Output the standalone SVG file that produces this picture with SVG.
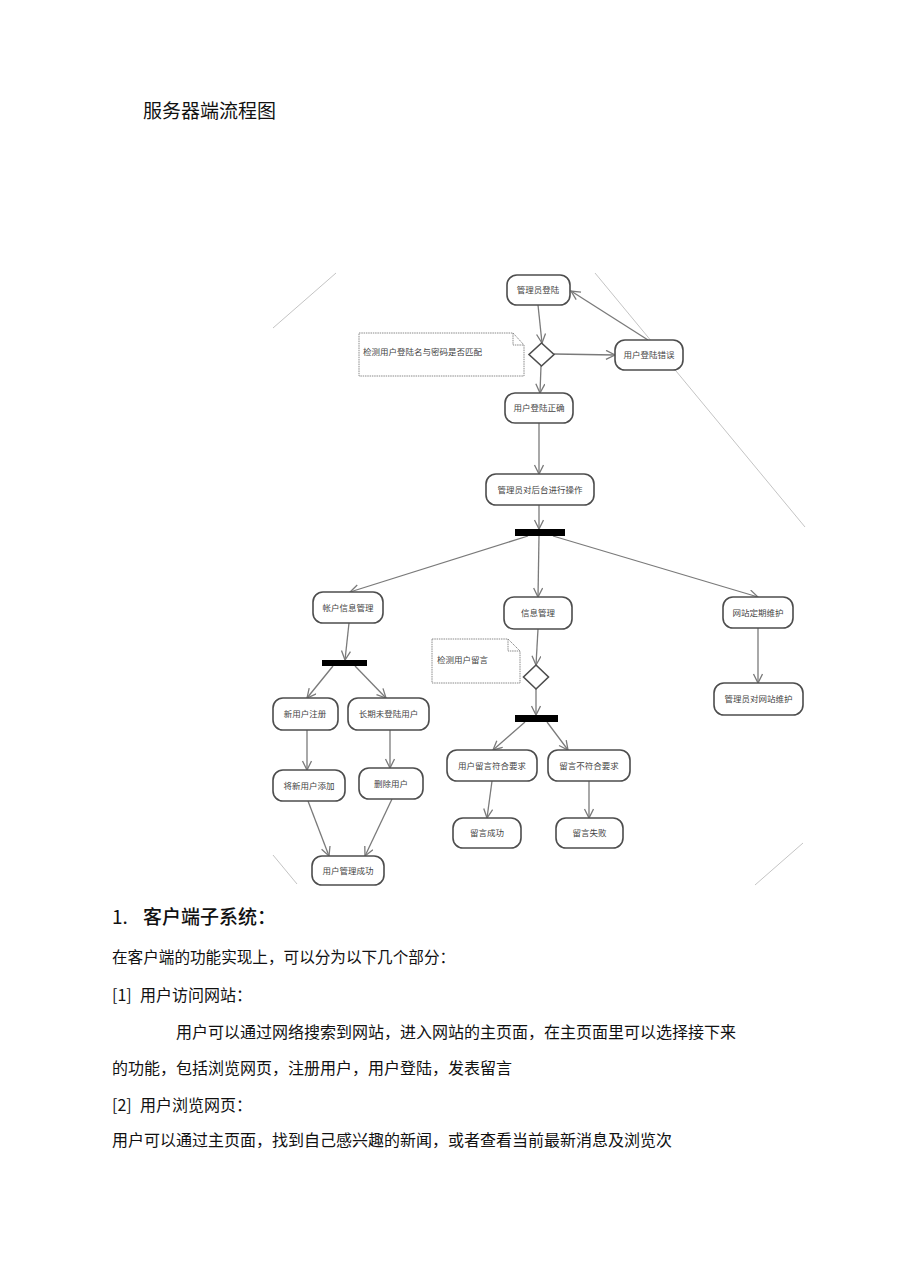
<svg xmlns="http://www.w3.org/2000/svg" width="920" height="1280" viewBox="0 0 920 1280">
<defs>
<style>
.node rect{fill:#fff;stroke:#4d4d4d;stroke-width:1.6}
.node text{font-family:"Noto Sans CJK SC","Noto Sans",sans-serif;font-size:8.5px;fill:#444;text-anchor:middle}
.note path{fill:#fff;stroke:#8a8a8a;stroke-width:1;stroke-dasharray:1.5 0.8}
.note text{font-family:"Noto Sans CJK SC","Noto Sans",sans-serif;font-size:8.5px;fill:#444}
.bar{fill:#000}
.dia{fill:#fff;stroke:#4d4d4d;stroke-width:1.6}
.conn line{stroke:#7a7a7a;stroke-width:1.3;fill:none;marker-end:url(#arr)}
.frame{stroke:#c4c4c4;stroke-width:1}
.doc{font-family:"Noto Sans CJK SC","Liberation Sans",sans-serif;fill:#111}
</style>
<marker id="arr" markerWidth="12" markerHeight="12" refX="10" refY="5" orient="auto" markerUnits="userSpaceOnUse">
<path d="M1,0.5 L10,5 L1,9.5" fill="none" stroke="#7a7a7a" stroke-width="1.3"/>
</marker>
</defs>
<rect width="920" height="1280" fill="#fff"/>
<text class="doc" x="143" y="118" font-size="19">服务器端流程图</text>

<g id="frame">
<line class="frame" x1="273" y1="328" x2="336" y2="273"/>
<line class="frame" x1="595" y1="273" x2="805" y2="527"/>
<line class="frame" x1="273" y1="855" x2="297" y2="884"/>
<line class="frame" x1="755" y1="885" x2="803" y2="843"/>
</g>

<g id="connectors" class="conn">
<line x1="538" y1="305" x2="542" y2="343"/>
<line x1="554" y1="354" x2="615" y2="355"/>
<line x1="648" y1="340" x2="571" y2="291"/>
<line x1="541" y1="366" x2="540" y2="393"/>
<line x1="539" y1="423" x2="539" y2="474"/>
<line x1="539" y1="505" x2="539" y2="529"/>
<line x1="528" y1="536" x2="350" y2="592"/>
<line x1="539" y1="536" x2="538" y2="597"/>
<line x1="553" y1="536" x2="758" y2="597"/>
<line x1="349" y1="623" x2="345" y2="660"/>
<line x1="333" y1="666" x2="307" y2="698"/>
<line x1="355" y1="666" x2="386" y2="698"/>
<line x1="307" y1="730" x2="307" y2="770"/>
<line x1="390" y1="730" x2="390" y2="768"/>
<line x1="308" y1="801" x2="329" y2="856"/>
<line x1="392" y1="799" x2="365" y2="856"/>
<line x1="538" y1="629" x2="536" y2="665"/>
<line x1="536" y1="689" x2="536" y2="715"/>
<line x1="525" y1="722" x2="493" y2="750"/>
<line x1="547" y1="722" x2="568" y2="750"/>
<line x1="492" y1="781" x2="487" y2="818"/>
<line x1="589" y1="781" x2="589" y2="818"/>
<line x1="758" y1="628" x2="758" y2="683"/>
</g>

<g id="note1" class="note">
<path d="M359,333 H513 L524,345 V376 H359 Z M513,333 V345 H524"/>
<text x="363" y="355">检测用户登陆名与密码是否匹配</text>
</g>
<g id="note2" class="note">
<path d="M432,639 H508 L520,651 V683 H432 Z M508,639 V651 H520"/>
<text x="437" y="663">检测用户留言</text>
</g>

<g id="n_admin_login" class="node"><rect x="507" y="275" width="63" height="30" rx="10"/><text x="538" y="293">管理员登陆</text></g>
<g id="d_check1"><path class="dia" d="M541.5,343 L554,354.5 L541.5,366 L529,354.5 Z"/></g>
<g id="n_login_err" class="node"><rect x="615" y="340" width="68" height="30" rx="10"/><text x="649" y="358">用户登陆错误</text></g>
<g id="n_login_ok" class="node"><rect x="505" y="393" width="68" height="30" rx="10"/><text x="539" y="411">用户登陆正确</text></g>
<g id="n_admin_op" class="node"><rect x="486" y="474" width="108" height="31" rx="10"/><text x="540" y="493">管理员对后台进行操作</text></g>
<g id="b_fork1"><rect class="bar" x="515" y="529" width="50" height="7"/></g>
<g id="n_acct" class="node"><rect x="313" y="592" width="70" height="31" rx="10"/><text x="348" y="611">帐户信息管理</text></g>
<g id="n_info" class="node"><rect x="504" y="597" width="68" height="32" rx="10"/><text x="538" y="616">信息管理</text></g>
<g id="n_site" class="node"><rect x="723" y="597" width="70" height="31" rx="10"/><text x="758" y="616">网站定期维护</text></g>
<g id="b_fork2"><rect class="bar" x="322" y="660" width="45" height="6"/></g>
<g id="d_check2"><path class="dia" d="M536,665 L548.5,677 L536,689 L523.5,677 Z"/></g>
<g id="b_fork3"><rect class="bar" x="515" y="715" width="43" height="7"/></g>
<g id="n_site_maint" class="node"><rect x="714" y="683" width="89" height="32" rx="10"/><text x="758.5" y="702">管理员对网站维护</text></g>
<g id="n_new_reg" class="node"><rect x="273" y="698" width="65" height="32" rx="10"/><text x="305" y="717">新用户注册</text></g>
<g id="n_long_inactive" class="node"><rect x="348" y="698" width="81" height="32" rx="10"/><text x="388.5" y="717">长期未登陆用户</text></g>
<g id="n_add_user" class="node"><rect x="273" y="770" width="72" height="31" rx="10"/><text x="309" y="789">将新用户添加</text></g>
<g id="n_del_user" class="node"><rect x="359" y="768" width="64" height="31" rx="10"/><text x="391" y="787">删除用户</text></g>
<g id="n_user_ok" class="node"><rect x="312" y="856" width="72" height="29" rx="10"/><text x="348" y="874">用户管理成功</text></g>
<g id="n_msg_ok" class="node"><rect x="447" y="750" width="90" height="31" rx="10"/><text x="492" y="769">用户留言符合要求</text></g>
<g id="n_msg_bad" class="node"><rect x="548" y="750" width="82" height="31" rx="10"/><text x="589" y="769">留言不符合要求</text></g>
<g id="n_msg_succ" class="node"><rect x="453" y="818" width="68" height="30" rx="10"/><text x="487" y="836">留言成功</text></g>
<g id="n_msg_fail" class="node"><rect x="556" y="818" width="67" height="30" rx="10"/><text x="589.5" y="836">留言失败</text></g>

<g id="body">
<text class="doc" x="112" y="924" font-size="19" font-family="Liberation Sans, sans-serif">1.</text>
<text class="doc" x="143" y="924" font-size="19" font-weight="500">客户端子系统：</text>
<text class="doc" x="112" y="963" font-size="15.6">在客户端的功能实现上，可以分为以下几个部分：</text>
<text class="doc" x="112" y="1001" font-size="16" font-family="Liberation Sans, sans-serif">[1]</text>
<text class="doc" x="140" y="1001" font-size="16">用户访问网站：</text>
<text class="doc" x="176" y="1038" font-size="16">用户可以通过网络搜索到网站，进入网站的主页面，在主页面里可以选择接下来</text>
<text class="doc" x="112" y="1074" font-size="16">的功能，包括浏览网页，注册用户，用户登陆，发表留言</text>
<text class="doc" x="112" y="1111" font-size="16" font-family="Liberation Sans, sans-serif">[2]</text>
<text class="doc" x="140" y="1111" font-size="16">用户浏览网页：</text>
<text class="doc" x="112" y="1146" font-size="16">用户可以通过主页面，找到自己感兴趣的新闻，或者查看当前最新消息及浏览次</text>
</g>
</svg>
